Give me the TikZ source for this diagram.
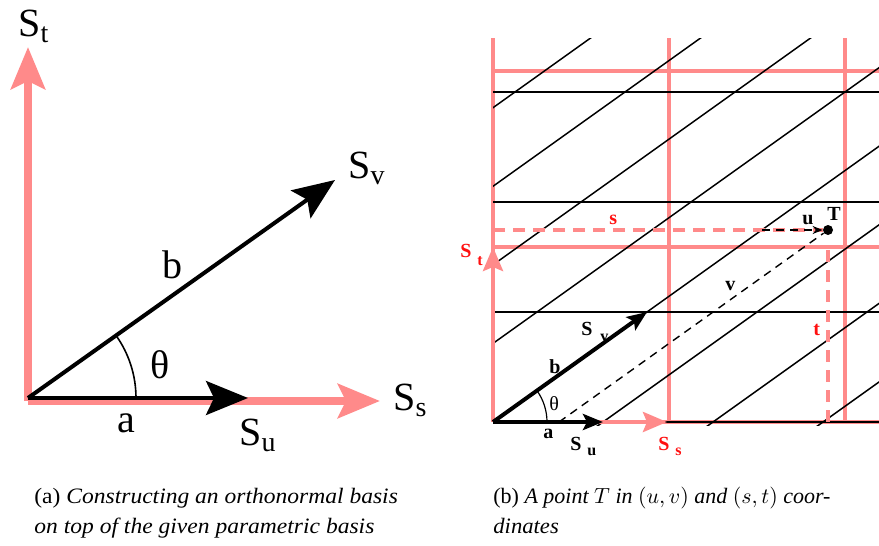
\documentclass[tikz,border=0pt]{standalone}
\usepackage{graphicx}
\usepackage{fontspec}
\setmainfont{Liberation Serif}
\usetikzlibrary{arrows.meta}
\definecolor{spink}{HTML}{FF8A8A}
\definecolor{sred}{HTML}{FF1010}
\tikzset{
  bigpink/.style={-{Stealth[length=21pt,width=17pt,inset=4pt]},line width=4pt,draw=spink,fill=spink},
  bigblk/.style={-{Stealth[length=21pt,width=17pt,inset=4pt]},line width=2pt,draw=black},
  biglbl/.style={font=\fontsize{20}{24}\selectfont,anchor=base west,inner sep=0},
  pgrid/.style={draw=spink,line width=2pt},
  lat/.style={draw=black,line width=0.75pt},
  smpink/.style={-{Stealth[length=12pt,width=10pt,inset=2pt]},line width=2pt,draw=spink,fill=spink},
  smblk/.style={-{Stealth[length=10pt,width=8pt,inset=2pt]},line width=2pt,draw=black},
  pdash/.style={draw=spink,line width=2pt,dash pattern=on 6pt off 4pt},
  bdash/.style={draw=black,line width=0.7pt,dash pattern=on 4pt off 3pt},
  lbl/.style={font=\bfseries\fontsize{10}{12}\selectfont,anchor=base west,inner sep=0},
  sublbl/.style={font=\bfseries\fontsize{8}{10}\selectfont,anchor=base west,inner sep=0},
  dot/.style={circle,fill=black,inner sep=0,minimum size=5pt},
  captxt/.style={font=\fontsize{11}{13}\selectfont,anchor=base west,inner sep=0},
}
\begin{document}
\begin{tikzpicture}[x=0.5pt,y=-0.5pt]
  \useasboundingbox (0,0) rectangle (879,546);
  % --- (a) parametric basis
  \coordinate (oa) at (28,401);
  \coordinate (ob) at (28,398);
  \coordinate (sta) at (28,47);
  \coordinate (ssa) at (380,401);
  \coordinate (sua) at (248,398);
  \coordinate (sva) at (335,180);
  \draw[bigpink] (oa) -- (sta);
  \draw[bigpink] (oa) -- (ssa);
  \draw[bigblk] (ob) -- (sua);
  \draw[bigblk] (ob) -- (sva);
  \draw[line width=0.8pt] (ob) ++(108,0) arc[start angle=0,end angle=-35.4,radius=108];
  \node[biglbl] (lSt) at (18,36) {S\textsubscript{t}};
  \node[biglbl] (lSv) at (348,178) {S\textsubscript{v}};
  \node[biglbl] (lSs) at (393,410) {S\textsubscript{s}};
  \node[biglbl] (lSu) at (239,445) {S\textsubscript{u}};
  \node[biglbl] (lb) at (162,278) {b};
  \node[biglbl] (la) at (117,432) {a};
  \node[biglbl] (lth) at (150,378) {θ};
  % --- (b) point T in both bases
  \coordinate (o2) at (493,422);
  \foreach \x in {493,669,845}
    \draw[pgrid] (\x,38) -- (\x,422);
  \foreach \y in {71,247,422}
    \draw[pgrid] (493,\y) -- (879,\y);
  \begin{scope}
    \clip (493,38) rectangle (879,425);
    \foreach \k in {-4,...,3}
      \draw[lat] ({493+110*\k-154},532) -- ++(770,-550);
    \foreach \j in {0,...,3}
      \draw[lat] (493,{422-110*\j}) -- (879,{422-110*\j});
  \end{scope}
  \coordinate (stb) at (493,247);
  \coordinate (ssb) at (667,422);
  \coordinate (sub) at (603,422);
  \coordinate (svb) at (647,312);
  \node[dot] (T) at (828,230) {};
  \coordinate (tu) at (762,230);
  \coordinate (tv) at (559,422);
  \coordinate (ts) at (493,230);
  \coordinate (tt1) at (828,250);
  \coordinate (tt0) at (828,422);
  \draw[pdash] (ts) -- (T);
  \draw[pdash] (tt0) -- (tt1);
  \draw[bdash] (tv) -- (T);
  \draw[bdash,-{Stealth[length=5pt,width=4pt]}] (tu) -- (T);
  \draw[smpink] (o2) -- (stb);
  \draw[smpink] (o2) -- (ssb);
  \draw[smblk] (o2) -- (sub);
  \draw[smblk] (o2) -- (svb);
  \draw[line width=0.6pt] (o2) ++(54,0) arc[start angle=0,end angle=-35.5,radius=54];
  \node[lbl] (rSv) at (581,335) {S};
  \node[sublbl] (rSvs) at (600,341) {v};
  \node[lbl] (rSu) at (570,450) {S};
  \node[sublbl] (rSus) at (587,455) {u};
  \node[lbl,text=sred] (rSs) at (658,450) {S};
  \node[sublbl,text=sred] (rSss) at (675,455) {s};
  \node[lbl,text=sred] (rSt) at (460,257) {S};
  \node[sublbl,text=sred] (rSts) at (477,265) {t};
  \node[lbl] (rb) at (549,373) {b};
  \node[lbl,font=\fontsize{10}{12}\selectfont] (rth) at (549,410) {θ};
  \node[lbl] (ra) at (543,438) {a};
  \node[lbl] (rv) at (725,290) {v};
  \node[lbl] (ru) at (802,224) {u};
  \node[lbl] (rT) at (827,220) {T};
  \node[lbl,text=sred] (rs) at (609,224) {s};
  \node[lbl,text=sred] (rt) at (813,335) {t};
  % --- captions
  \node[captxt] (capa) at (34,503) {\scalebox{1.07}[1]{(a) \textit{Constructing an orthonormal basis}}};
  \node[captxt] (capa2) at (34,533) {\scalebox{1.07}[1]{\textit{on top of the given parametric basis}}};
  \node[captxt] (capb) at (493,503) {(b) \textit{A point $T$ in $(u,v)$ and $(s,t)$ coor-}};
  \node[captxt] (capb2) at (493,533) {\scalebox{1.03}[1]{\textit{dinates}}};
\end{tikzpicture}
\end{document}
